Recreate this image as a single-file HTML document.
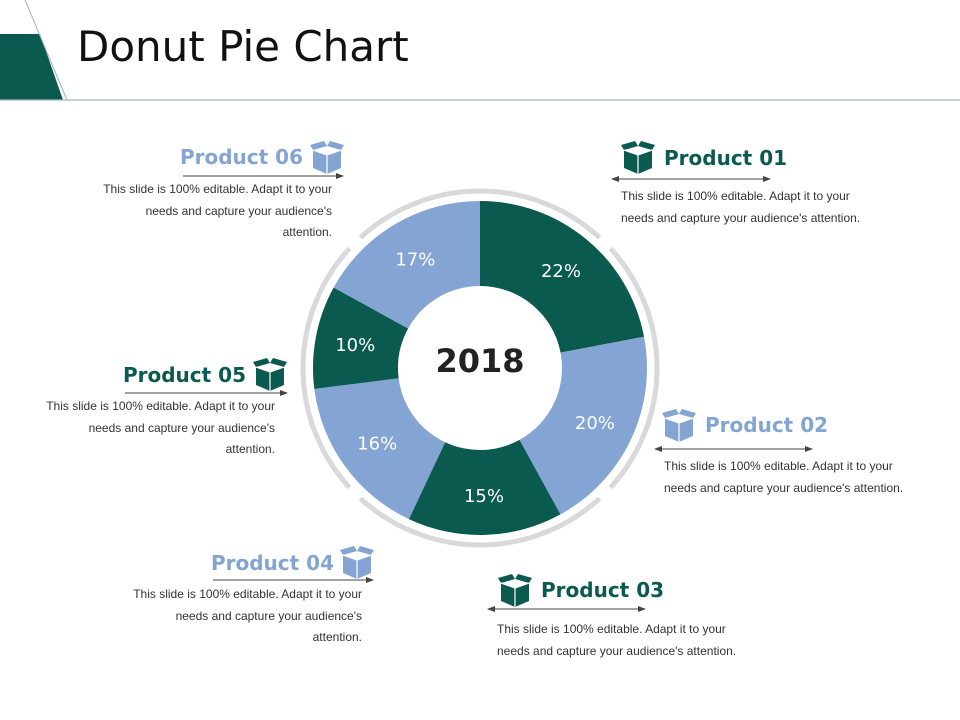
<!DOCTYPE html>
<html><head><meta charset="utf-8"><style>
body{margin:0;background:#fff;}
#root{position:relative;width:960px;height:720px;overflow:hidden;font-family:"Liberation Sans",sans-serif;}
.t{position:absolute;font-family:"DejaVu Sans",sans-serif;font-weight:bold;font-size:20px;white-space:nowrap;line-height:22px;}
.d{position:absolute;font-size:12px;color:#333;line-height:21.5px;white-space:nowrap;}
.r{text-align:right;}
</style></head><body>
<div id="root">
<svg width="960" height="720" style="position:absolute;left:0;top:0">
  <defs>
    <marker id="ah" markerWidth="8" markerHeight="8" refX="7" refY="4" orient="auto-start-reverse"><path d="M0,1 L8,4 L0,7 Z" fill="#444"/></marker>
    <g id="box">
      <path d="M2,9 L16,14 L30,9 L30,27 L16,33 L2,27 Z"/>
      <path d="M2,9 L-1,4 L13,0 L16,5 Z M30,9 L33,4 L19,0 L16,5 Z"/>
      <path d="M16,14 L16,33" stroke="#fff" stroke-width="1.2"/>
      <path d="M2,9 L16,14 L30,9" stroke="#fff" stroke-width="1.2" fill="none"/>
    </g>
  </defs>
  <polygon points="0,34 40,34 63,100 0,100" fill="#0a5a50"/>
  <line x1="25" y1="0" x2="67" y2="100" stroke="#a0b4c4" stroke-width="1"/>
  <line x1="0" y1="100" x2="960" y2="100" stroke="#a0b4c4" stroke-width="1.2"/>
  <g id="donut"></g>
  <line x1="183" y1="176" x2="343" y2="176" stroke="#444" marker-end="url(#ah)"/>
  <line x1="125" y1="393" x2="287" y2="393" stroke="#444" marker-end="url(#ah)"/>
  <line x1="213" y1="580" x2="373" y2="580" stroke="#444" marker-end="url(#ah)"/>
  <line x1="612" y1="179" x2="770" y2="179" stroke="#444" marker-start="url(#ah)" marker-end="url(#ah)"/>
  <line x1="655" y1="449" x2="812" y2="449" stroke="#444" marker-start="url(#ah)" marker-end="url(#ah)"/>
  <line x1="488" y1="609" x2="645" y2="609" stroke="#444" marker-start="url(#ah)" marker-end="url(#ah)"/>
  <use href="#box" x="311" y="141" fill="#84a4d4"/>
  <use href="#box" x="254" y="358" fill="#0a5a50"/>
  <use href="#box" x="341" y="546" fill="#84a4d4"/>
  <use href="#box" x="622" y="141" fill="#0a5a50"/>
  <use href="#box" x="663" y="409" fill="#84a4d4"/>
  <use href="#box" x="499" y="574" fill="#0a5a50"/>
</svg>
<div style="position:absolute;left:77px;top:22px;font-family:'DejaVu Sans',sans-serif;font-size:42px;color:#111;white-space:nowrap">Donut Pie Chart</div>

<div class="t r" style="right:657px;top:146px;color:#84a4d4">Product 06</div>
<div class="d r" style="right:628px;top:179px">This slide is 100% editable. Adapt it to your<br>needs and capture your audience's<br>attention.</div>
<div class="t r" style="right:714px;top:364px;color:#0a5a50">Product 05</div>
<div class="d r" style="right:685px;top:396px">This slide is 100% editable. Adapt it to your<br>needs and capture your audience's<br>attention.</div>
<div class="t r" style="right:626px;top:552px;color:#84a4d4">Product 04</div>
<div class="d r" style="right:598px;top:584px">This slide is 100% editable. Adapt it to your<br>needs and capture your audience's<br>attention.</div>
<div class="t" style="left:664px;top:147px;color:#0a5a50">Product 01</div>
<div class="d" style="left:621px;top:186px">This slide is 100% editable. Adapt it to your<br>needs and capture your audience's attention.</div>
<div class="t" style="left:705px;top:414px;color:#84a4d4">Product 02</div>
<div class="d" style="left:664px;top:456px">This slide is 100% editable. Adapt it to your<br>needs and capture your audience's attention.</div>
<div class="t" style="left:541px;top:579px;color:#0a5a50">Product 03</div>
<div class="d" style="left:497px;top:619px">This slide is 100% editable. Adapt it to your<br>needs and capture your audience's attention.</div>
</div>
<script>
const categories = ["Product 01","Product 02","Product 03","Product 04","Product 05","Product 06"];
const values = [22, 20, 15, 16, 10, 17];
const valueLabels = ["22%","20%","15%","16%","10%","17%"];
const centerLabel = "2018";
const ringGaps = [45, 135, 225, 315];

const NS = "http://www.w3.org/2000/svg";
const g = document.getElementById("donut");
const cx = 480, cy = 368, R = 167, r0 = 82, RR = 177;
const total = values.reduce((a,b)=>a+b,0);
function pt(rad, deg){ const a=(deg-90)*Math.PI/180; return [cx+rad*Math.cos(a), cy+rad*Math.sin(a)]; }
function angle(v){ return v/total*360; }

for (let i=0;i<ringGaps.length;i++){
  const a0 = ringGaps[i]+2.5, a1 = ringGaps[(i+1)%ringGaps.length]+(i+1===ringGaps.length?360:0)-2.5;
  const p0=pt(RR,a0), p1=pt(RR,a1);
  const path=document.createElementNS(NS,"path");
  path.setAttribute("d",`M${p0[0]},${p0[1]} A${RR},${RR} 0 ${a1-a0>180?1:0} 1 ${p1[0]},${p1[1]}`);
  path.setAttribute("fill","none"); path.setAttribute("stroke","#d9d9d9"); path.setAttribute("stroke-width","5");
  
  
  g.appendChild(path);
}
let acc=0;
values.forEach((v,i)=>{
  const a0=angle(acc), a1=angle(acc+v); acc+=v;
  const o0=pt(R,a0), o1=pt(R,a1), i1=pt(r0,a1), i0=pt(r0,a0);
  const large=(a1-a0)>180?1:0;
  const path=document.createElementNS(NS,"path");
  path.setAttribute("d",`M${o0[0]},${o0[1]} A${R},${R} 0 ${large} 1 ${o1[0]},${o1[1]} L${i1[0]},${i1[1]} A${r0},${r0} 0 ${large} 0 ${i0[0]},${i0[1]} Z`);
  path.setAttribute("fill", i%2===0?"#0a5a50":"#84a4d4");
  
  
  g.appendChild(path);
  const m=pt(127,(a0+a1)/2);
  const t=document.createElementNS(NS,"text");
  t.setAttribute("x",m[0]); t.setAttribute("y",m[1]+7);
  t.setAttribute("text-anchor","middle"); t.setAttribute("fill","#fff");
  t.setAttribute("font-family","DejaVu Sans, sans-serif"); t.setAttribute("font-size","18");
  t.textContent=valueLabels[i];
  
  
  g.appendChild(t);
});
const c=document.createElementNS(NS,"text");
c.setAttribute("x",cx); c.setAttribute("y",cy+4);
c.setAttribute("text-anchor","middle"); c.setAttribute("fill","#222");
c.setAttribute("font-family","DejaVu Sans, sans-serif"); c.setAttribute("font-weight","bold"); c.setAttribute("font-size","32");
c.textContent=centerLabel;


g.appendChild(c);
</script>
</body></html>
